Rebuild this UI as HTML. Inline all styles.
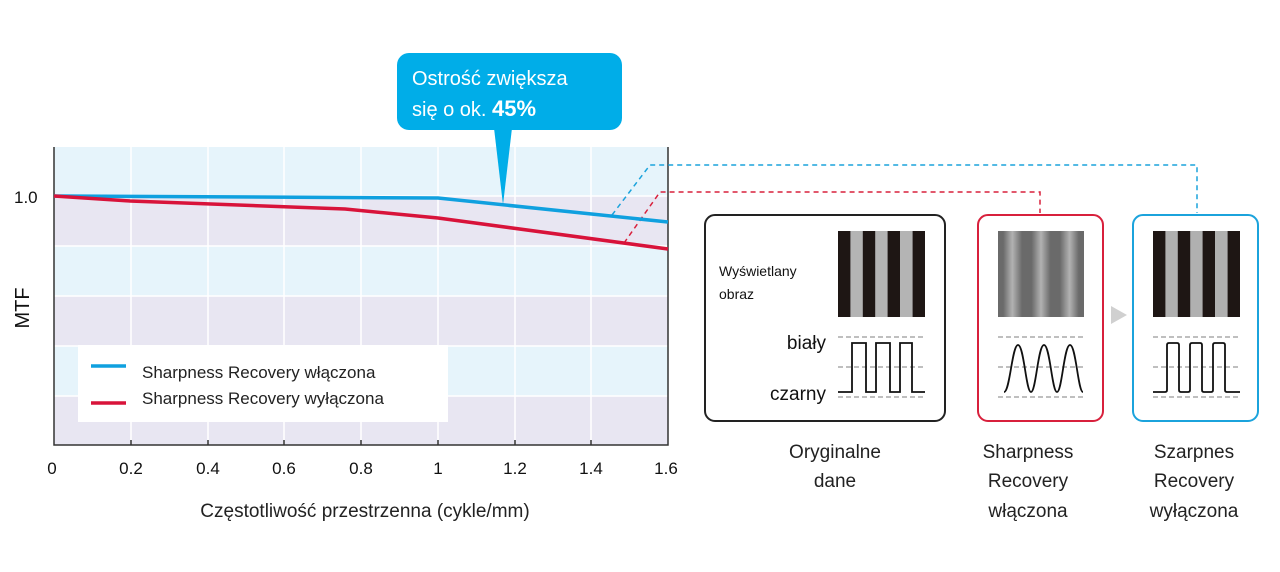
<!DOCTYPE html>
<html><head><meta charset="utf-8"><style>
body{margin:0;background:#fff;}
svg{display:block;font-family:"Liberation Sans",sans-serif;}
</style></head><body>
<svg width="1280" height="572" viewBox="0 0 1280 572">
<defs>
<linearGradient id="gR" x1="0" x2="1">
<stop offset="0" stop-color="#6a6a6a"/><stop offset="0.06" stop-color="#6a6a6a"/><stop offset="0.167" stop-color="#b2b2b2"/><stop offset="0.28" stop-color="#6a6a6a"/><stop offset="0.39" stop-color="#6a6a6a"/><stop offset="0.5" stop-color="#b2b2b2"/><stop offset="0.61" stop-color="#6a6a6a"/><stop offset="0.72" stop-color="#6a6a6a"/><stop offset="0.833" stop-color="#b2b2b2"/><stop offset="0.94" stop-color="#6a6a6a"/><stop offset="1" stop-color="#6a6a6a"/>
</linearGradient>
</defs>
<rect x="54" y="147" width="614" height="49" fill="#e6f4fb"/>
<rect x="54" y="196" width="614" height="50" fill="#e8e6f2"/>
<rect x="54" y="246" width="614" height="50" fill="#e6f4fb"/>
<rect x="54" y="296" width="614" height="50" fill="#e8e6f2"/>
<rect x="54" y="346" width="614" height="50" fill="#e6f4fb"/>
<rect x="54" y="396" width="614" height="49" fill="#e8e6f2"/>
<g stroke="#fff" stroke-width="1.5">
<line x1="54" x2="668" y1="196" y2="196"/><line x1="54" x2="668" y1="246" y2="246"/><line x1="54" x2="668" y1="296" y2="296"/><line x1="54" x2="668" y1="346" y2="346"/><line x1="54" x2="668" y1="396" y2="396"/>
<line x1="131" x2="131" y1="147" y2="445"/><line x1="208" x2="208" y1="147" y2="445"/><line x1="284" x2="284" y1="147" y2="445"/><line x1="361" x2="361" y1="147" y2="445"/><line x1="438" x2="438" y1="147" y2="445"/><line x1="515" x2="515" y1="147" y2="445"/><line x1="591" x2="591" y1="147" y2="445"/>
</g>
<path d="M54 147 V445 H668 V147" fill="none" stroke="#333" stroke-width="1.5"/>
<g stroke="#333" stroke-width="1.5">
<line x1="131" x2="131" y1="440" y2="445"/><line x1="208" x2="208" y1="440" y2="445"/><line x1="284" x2="284" y1="440" y2="445"/><line x1="361" x2="361" y1="440" y2="445"/><line x1="438" x2="438" y1="440" y2="445"/><line x1="515" x2="515" y1="440" y2="445"/><line x1="591" x2="591" y1="440" y2="445"/>
</g>
<path d="M612 215 L650 165 H1197 V213" fill="none" stroke="#1ba3dc" stroke-width="1.5" stroke-dasharray="5,4"/>
<path d="M624 243 L660 192 H1040 V213" fill="none" stroke="#d8203c" stroke-width="1.5" stroke-dasharray="5,4"/>
<polyline points="54,196 438,198 668,222" fill="none" stroke="#0fa0df" stroke-width="3.5"/>
<polyline points="54,196 130,201 345,209 438,218 668,249" fill="none" stroke="#d8133a" stroke-width="3.5"/>
<rect x="78" y="345" width="370" height="77" fill="#fff"/>
<line x1="91" x2="126" y1="366" y2="366" stroke="#0fa0df" stroke-width="3.5"/>
<line x1="91" x2="126" y1="403" y2="403" stroke="#d8133a" stroke-width="3.5"/>
<text x="142" y="378" font-size="17" fill="#222">Sharpness Recovery włączona</text>
<text x="142" y="404" font-size="17" fill="#222">Sharpness Recovery wyłączona</text>
<text x="14" y="203" font-size="17" fill="#111">1.0</text>
<text x="29" y="308" font-size="20" fill="#111" transform="rotate(-90 29 308)" text-anchor="middle">MTF</text>
<g font-size="17" fill="#111" text-anchor="middle">
<text x="52" y="474">0</text><text x="131" y="474">0.2</text><text x="208" y="474">0.4</text><text x="284" y="474">0.6</text><text x="361" y="474">0.8</text><text x="438" y="474">1</text><text x="515" y="474">1.2</text><text x="591" y="474">1.4</text><text x="666" y="474">1.6</text>
</g>
<text x="365" y="517" font-size="19" fill="#222" text-anchor="middle">Częstotliwość przestrzenna (cykle/mm)</text>
<rect x="397" y="53" width="225" height="77" rx="12" fill="#00ade8"/>
<path d="M494 128 L512 128 L503 205 Z" fill="#00ade8"/>
<text x="412" y="85" font-size="20" fill="#fff">Ostrość zwiększa</text>
<text x="412" y="116" font-size="20" fill="#fff">się o ok. <tspan font-weight="bold" font-size="22">45%</tspan></text>
<rect x="705" y="215" width="240" height="206" rx="10" fill="#fff" stroke="#222" stroke-width="2"/>
<rect x="978" y="215" width="125" height="206" rx="10" fill="#fff" stroke="#d8203c" stroke-width="2"/>
<rect x="1133" y="215" width="125" height="206" rx="10" fill="#fff" stroke="#1ba3dc" stroke-width="2"/>
<rect x="838" y="231" width="87" height="86" fill="#b4b4b4"/>
<g fill="#1e1614"><rect x="838" y="231" width="12.4" height="86"/><rect x="862.8" y="231" width="12.4" height="86"/><rect x="887.6" y="231" width="12.4" height="86"/><rect x="912.6" y="231" width="12.4" height="86"/></g>
<rect x="998" y="231" width="86" height="86" fill="url(#gR)"/>
<rect x="1153" y="231" width="87" height="86" fill="#b0b0b0"/>
<g fill="#1e1614"><rect x="1153" y="231" width="12.4" height="86"/><rect x="1177.8" y="231" width="12.4" height="86"/><rect x="1202.6" y="231" width="12.4" height="86"/><rect x="1227.6" y="231" width="12.4" height="86"/></g>
<path d="M1111 306 L1127 315 L1111 324 Z" fill="#d0d0d0"/>
<g stroke="#aaa" stroke-width="1.5" stroke-dasharray="5,3">
<line x1="838" x2="925" y1="337" y2="337"/><line x1="838" x2="925" y1="367" y2="367"/><line x1="838" x2="925" y1="397" y2="397"/>
<line x1="998" x2="1084" y1="337" y2="337"/><line x1="998" x2="1084" y1="367" y2="367"/><line x1="998" x2="1084" y1="397" y2="397"/>
<line x1="1153" x2="1240" y1="337" y2="337"/><line x1="1153" x2="1240" y1="367" y2="367"/><line x1="1153" x2="1240" y1="397" y2="397"/>
</g>
<path d="M838 392 H852 V343 H866 V392 H876 V343 H890 V392 H900 V343 H912 V392 H925" fill="none" stroke="#111" stroke-width="1.8"/>
<path d="M1004 392 C1010 392 1012 345 1018 345 C1024 345 1026 392 1031 392 C1036 392 1038 345 1044 345 C1050 345 1052 392 1057 392 C1062 392 1064 345 1070 345 C1076 345 1078 392 1083 392" fill="none" stroke="#111" stroke-width="1.8"/>
<path d="M1153 392 H1165 Q1167 392 1167 390 V345 Q1167 343 1169 343 H1177 Q1179 343 1179 345 V390 Q1179 392 1181 392 H1188 Q1190 392 1190 390 V345 Q1190 343 1192 343 H1200 Q1202 343 1202 345 V390 Q1202 392 1204 392 H1211 Q1213 392 1213 390 V345 Q1213 343 1215 343 H1223 Q1225 343 1225 345 V390 Q1225 392 1227 392 H1240" fill="none" stroke="#111" stroke-width="1.8"/>
<text x="719" y="276" font-size="14" fill="#111">Wyświetlany</text>
<text x="719" y="299" font-size="14" fill="#111">obraz</text>
<text x="826" y="349" font-size="19" fill="#111" text-anchor="end">biały</text>
<text x="826" y="400" font-size="19" fill="#111" text-anchor="end">czarny</text>
<g font-size="19" fill="#222" text-anchor="middle">
<text x="835" y="458">Oryginalne</text><text x="835" y="487">dane</text>
<text x="1028" y="458">Sharpness</text><text x="1028" y="487">Recovery</text><text x="1028" y="517">włączona</text>
<text x="1194" y="458">Szarpnes</text><text x="1194" y="487">Recovery</text><text x="1194" y="517">wyłączona</text>
</g>
</svg>
</body></html>
